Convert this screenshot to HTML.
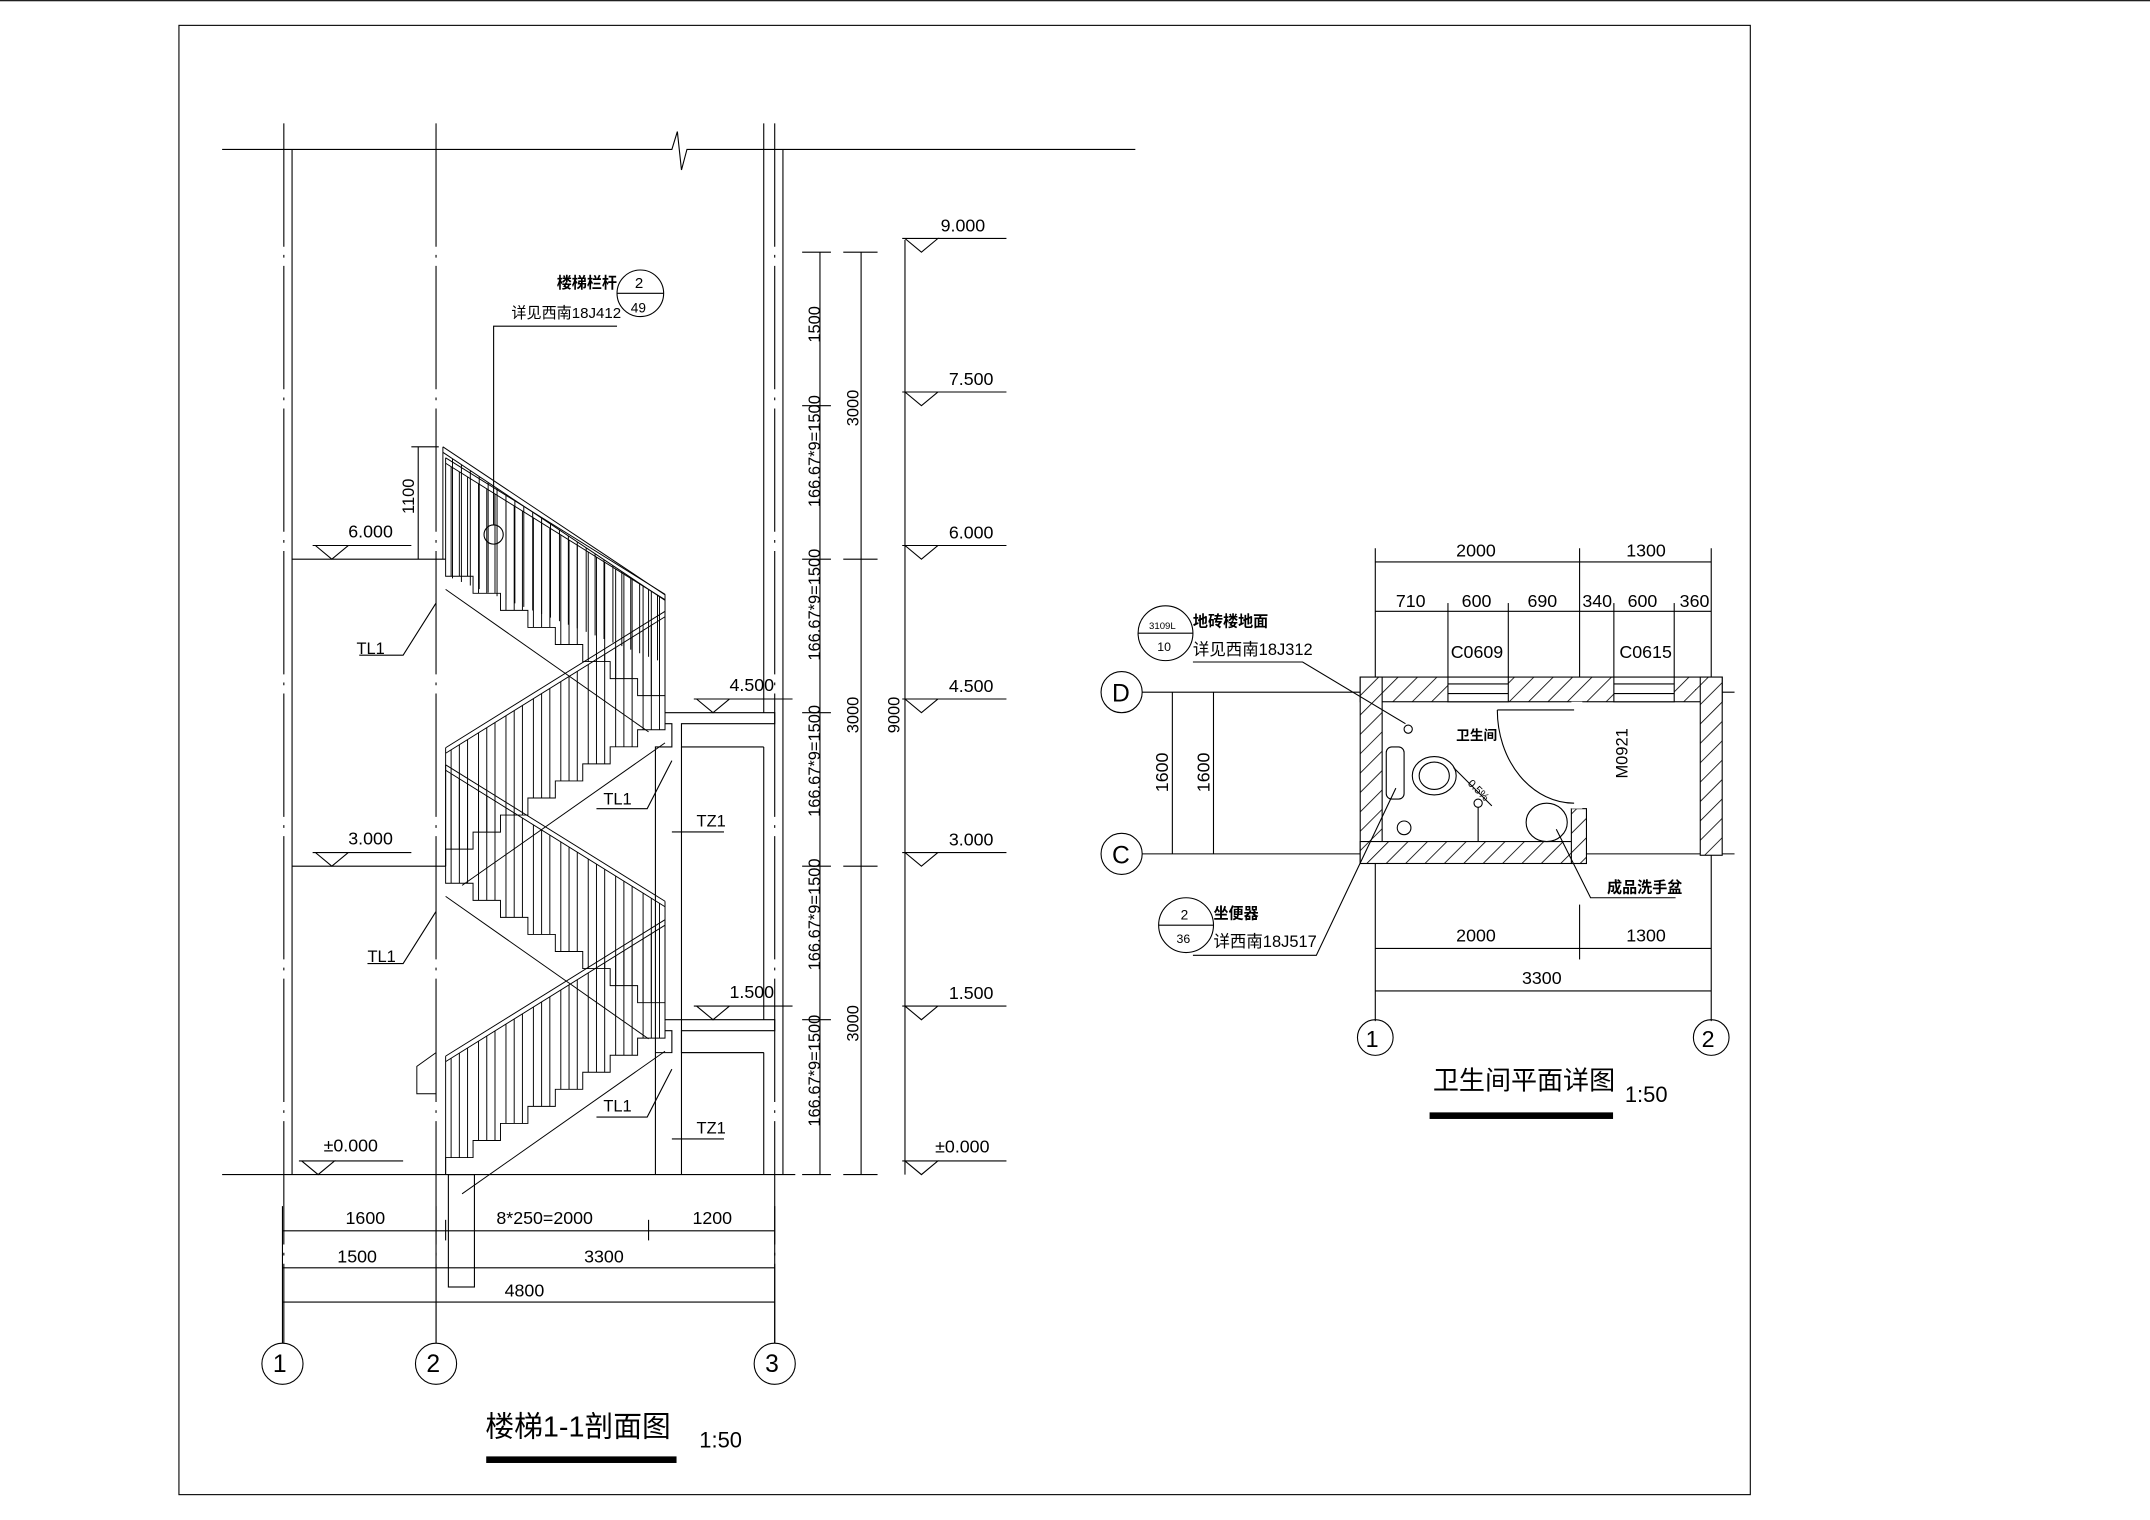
<!DOCTYPE html>
<html><head><meta charset="utf-8"><style>
html,body{margin:0;padding:0;background:#fff;}
svg{display:block}
text{font-family:"Liberation Sans","Noto Sans CJK SC",sans-serif;fill:#000}
</style></head><body>
<svg id="s" width="2150" height="1520" viewBox="0 0 1568 1109" preserveAspectRatio="none" xmlns="http://www.w3.org/2000/svg">
<g fill="none" stroke="#000" stroke-width="0.8">
<rect x="130.5" y="18.5" width="1146" height="1072"/>
<line x1="0" y1="0.5" x2="1568" y2="0.5"/>
<polyline points="162,109 490,109 494,96 497,124 501,109 828,109"/>
<line x1="207" y1="90" x2="207" y2="980" stroke-dasharray="90,6,2,6"/>
<line x1="213" y1="109" x2="213" y2="857"/>
<line x1="318" y1="90" x2="318" y2="980" stroke-dasharray="90,6,2,6"/>
<line x1="557" y1="90" x2="557" y2="520"/>
<line x1="565" y1="90" x2="565" y2="980" stroke-dasharray="90,6,2,6"/>
<line x1="571" y1="109" x2="571" y2="857"/>
<line x1="557" y1="545" x2="557" y2="744"/>
<line x1="557" y1="768" x2="557" y2="857"/>
<circle cx="206" cy="995" r="15"/><circle cx="318" cy="995" r="15"/><circle cx="565" cy="995" r="15"/>
<line x1="162" y1="857" x2="580" y2="857"/>
<rect x="327" y="857" width="19" height="82"/>
<line x1="213" y1="408" x2="325" y2="408"/>
<line x1="213" y1="632" x2="325" y2="632"/>
<polyline points="485,520 565,520 565,528 497,528 497,545 557,545"/>
<polyline points="485,528 490,528 490,545 478,545 478,857"/>
<polyline points="485,744 565,744 565,752 497,752 497,768 557,768"/>
<polyline points="485,752 490,752 490,768 478,768"/>
<line x1="497" y1="545" x2="497" y2="857"/>
<line x1="497" y1="768" x2="557" y2="768"/>
<g id="elev"></g>
<line x1="598" y1="184" x2="598" y2="857"/>
<line x1="628" y1="184" x2="628" y2="857"/>
<line x1="660" y1="175" x2="660" y2="857"/>
<line x1="206" y1="898" x2="565" y2="898"/>
<line x1="206" y1="925" x2="565" y2="925"/>
<line x1="206" y1="950" x2="565" y2="950"/>
<line x1="206" y1="880" x2="206" y2="980"/>
<line x1="565" y1="880" x2="565" y2="980"/>
<line x1="318" y1="880" x2="318" y2="980"/>
<line x1="325" y1="890" x2="325" y2="905"/>
<line x1="473" y1="890" x2="473" y2="905"/>
<circle cx="467" cy="214" r="17"/><line x1="450" y1="214" x2="484" y2="214"/>
<polyline points="450,238 360,238 360,383"/>
<circle cx="360" cy="390" r="7"/>
<line x1="305" y1="326" x2="305" y2="408"/>
<line x1="300" y1="326" x2="320" y2="326"/>
<polyline points="262,478 294,478 318,440"/>
<polyline points="268,703 294,703 318,665"/>
<polyline points="435,590 472,590 490,555"/>
<polyline points="435,815 472,815 490,780"/>
<line x1="490" y1="607" x2="528" y2="607"/>
<line x1="490" y1="831" x2="528" y2="831"/>
<rect x="355" y="1063" width="138" height="4" fill="#000"/>
<rect x="1043" y="812" width="133" height="4" fill="#000"/>
<g id="bath">
<line x1="1003" y1="400" x2="1003" y2="745"/>
<line x1="1248" y1="400" x2="1248" y2="745"/>
<line x1="1152" y1="400" x2="1152" y2="494"/>
<line x1="1152" y1="660" x2="1152" y2="700"/>
<line x1="1003" y1="410" x2="1248" y2="410"/>
<line x1="1003" y1="446" x2="1248" y2="446"/>
<line x1="1056" y1="440" x2="1056" y2="494"/>
<line x1="1100" y1="440" x2="1100" y2="494"/>
<line x1="1177" y1="440" x2="1177" y2="494"/>
<line x1="1221" y1="440" x2="1221" y2="494"/>
<line x1="1003" y1="692" x2="1248" y2="692"/>
<line x1="1003" y1="723" x2="1248" y2="723"/>
<line x1="833" y1="505" x2="1265" y2="505"/>
<line x1="833" y1="623" x2="1265" y2="623"/>
<line x1="855" y1="505" x2="855" y2="623"/>
<line x1="885" y1="505" x2="885" y2="623"/>
<circle cx="818" cy="505" r="15"/><circle cx="818" cy="623" r="15"/>
<circle cx="1003" cy="757" r="13"/><circle cx="1248" cy="757" r="13"/>
<rect x="992" y="494" width="264" height="18" fill="url(#h)"/>
<rect x="992" y="494" width="16" height="136" fill="url(#h)"/>
<rect x="992" y="614" width="165" height="16" fill="url(#h)"/>
<rect x="1240" y="494" width="16" height="130" fill="url(#h)"/>
<rect x="1146" y="590" width="11" height="40" fill="url(#h)"/>
<rect x="1056" y="494" width="44" height="18" fill="#fff"/>
<line x1="1056" y1="499" x2="1100" y2="499"/><line x1="1056" y1="506" x2="1100" y2="506"/>
<rect x="1177" y="494" width="44" height="18" fill="#fff"/>
<line x1="1177" y1="499" x2="1221" y2="499"/><line x1="1177" y1="506" x2="1221" y2="506"/>
<rect x="1146" y="512" width="8" height="78" fill="#fff" stroke="none"/>
<line x1="1092" y1="518" x2="1148" y2="518"/>
<path d="M1092,518 A56,68 0 0 0 1148,586"/>
<rect x="1011" y="545" width="13" height="38" rx="4"/>
<ellipse cx="1046" cy="566" rx="16" ry="14"/>
<ellipse cx="1046" cy="566" rx="11" ry="10"/>
<circle cx="1024" cy="604" r="5"/>
<circle cx="1027" cy="532" r="3"/>
<circle cx="1078" cy="586" r="3"/>
<line x1="1078" y1="589" x2="1078" y2="614"/>
<ellipse cx="1128" cy="600" rx="15" ry="14"/>
<line x1="1060" y1="560" x2="1088" y2="588"/>
<circle cx="850" cy="462" r="20"/><line x1="830" y1="462" x2="870" y2="462"/>
<polyline points="870,483 950,483 1025,528"/>
<circle cx="865" cy="675" r="20"/><line x1="845" y1="675" x2="885" y2="675"/>
<polyline points="870,697 960,697 1018,575"/>
<polyline points="1135,605 1160,655 1222,655"/>
</g>
</g>
<defs>
<pattern id="h" width="10" height="10" patternUnits="userSpaceOnUse" patternTransform="rotate(45)">
<rect width="10" height="10" fill="#fff"/><line x1="0" y1="0" x2="0" y2="10" stroke="#000" stroke-width="1.2"/>
</pattern>
</defs>
<g id="stairs" fill="none" stroke="#000" stroke-width="0.7"></g>
<g font-size="13">
<text x="254" y="392">6.000</text>
<text x="254" y="616">3.000</text>
<text x="236" y="840">±0.000</text>
<text x="532" y="504">4.500</text>
<text x="532" y="728">1.500</text>
<text x="686" y="169">9.000</text>
<text x="692" y="281">7.500</text>
<text x="692" y="393">6.000</text>
<text x="692" y="505">4.500</text>
<text x="692" y="617">3.000</text>
<text x="692" y="729">1.500</text>
<text x="682" y="841">±0.000</text>
<text x="260" y="477" font-size="12">TL1</text>
<text x="268" y="702" font-size="12">TL1</text>
<text x="440" y="587" font-size="12">TL1</text>
<text x="440" y="811" font-size="12">TL1</text>
<text x="508" y="603" font-size="12">TZ1</text>
<text x="508" y="827" font-size="12">TZ1</text>
<text x="252" y="893">1600</text>
<text x="362" y="893">8*250=2000</text>
<text x="505" y="893">1200</text>
<text x="246" y="921">1500</text>
<text x="426" y="921">3300</text>
<text x="368" y="946">4800</text>
<text x="199" y="1001" font-size="18">1</text>
<text x="311" y="1001" font-size="18">2</text>
<text x="558" y="1001" font-size="18">3</text>
<text x="406" y="210" font-size="11" font-weight="bold">楼梯栏杆</text>
<text x="373" y="232" font-size="11">详见西南18J412</text>
<text x="463" y="210" font-size="11">2</text>
<text x="460" y="228" font-size="10">49</text>
<g font-size="12">
<text transform="translate(598,250) rotate(-90)">1500</text>
<text transform="translate(598,370) rotate(-90)">166.67*9=1500</text>
<text transform="translate(598,482) rotate(-90)">166.67*9=1500</text>
<text transform="translate(598,596) rotate(-90)">166.67*9=1500</text>
<text transform="translate(598,708) rotate(-90)">166.67*9=1500</text>
<text transform="translate(598,822) rotate(-90)">166.67*9=1500</text>
<text transform="translate(626,311) rotate(-90)">3000</text>
<text transform="translate(626,535) rotate(-90)">3000</text>
<text transform="translate(626,760) rotate(-90)">3000</text>
<text transform="translate(656,535) rotate(-90)">9000</text>
<text transform="translate(302,375) rotate(-90)">1100</text>
</g>
<text x="354" y="1048" font-size="21">楼梯1-1剖面图</text>
<text x="510" y="1056" font-size="16">1:50</text>
<text x="1045" y="795" font-size="19">卫生间平面详图</text>
<text x="1185" y="804" font-size="16">1:50</text>
<text x="1062" y="406">2000</text>
<text x="1186" y="406">1300</text>
<text x="1018" y="443">710</text>
<text x="1066" y="443">600</text>
<text x="1114" y="443">690</text>
<text x="1154" y="443">340</text>
<text x="1187" y="443">600</text>
<text x="1225" y="443">360</text>
<text x="1058" y="480">C0609</text>
<text x="1181" y="480">C0615</text>
<text x="1062" y="687">2000</text>
<text x="1186" y="687">1300</text>
<text x="1110" y="718">3300</text>
<text transform="translate(852,578) rotate(-90)">1600</text>
<text transform="translate(882,578) rotate(-90)">1600</text>
<text transform="translate(1187,568) rotate(-90)" font-size="12">M0921</text>
<text x="811" y="512" font-size="18">D</text>
<text x="811" y="630" font-size="18">C</text>
<text x="996" y="764" font-size="17">1</text>
<text x="1241" y="764" font-size="17">2</text>
<text x="1062" y="540" font-size="10" font-weight="bold">卫生间</text>
<text x="870" y="457" font-size="11" font-weight="bold">地砖楼地面</text>
<text x="870" y="478" font-size="12">详见西南18J312</text>
<text x="838" y="459" font-size="7">3109L</text>
<text x="844" y="475" font-size="9">10</text>
<text x="885" y="670" font-size="11" font-weight="bold">坐便器</text>
<text x="885" y="691" font-size="12">详西南18J517</text>
<text x="861" y="671" font-size="10">2</text>
<text x="858" y="688" font-size="9">36</text>
<text x="1172" y="651" font-size="11" font-weight="bold">成品洗手盆</text>
<text transform="translate(1070,572) rotate(45)" font-size="8">0.5%</text>
</g>
<script>
var NS="http://www.w3.org/2000/svg";
function el(p,t,a){var e=document.createElementNS(NS,t);for(var k in a)e.setAttribute(k,a[k]);p.appendChild(e);return e;}
var g=document.getElementById('stairs');
function flight(xs,ys,d){
 var pts=[[xs,ys]],x=xs,y=ys,r=112/9;
 for(var i=0;i<9;i++){y-=r;pts.push([x,y]);if(i<8){x+=20*d;pts.push([x,y]);}}
 el(g,'polyline',{points:pts.map(function(p){return p.join(',')}).join(' ')});
 el(g,'line',{x1:xs+12*d,y1:ys+14,x2:xs+160*d,y2:ys-112+22});
 var h=70;
 el(g,'line',{x1:xs,y1:ys-r-h,x2:xs+160*d,y2:ys-112-h});
 el(g,'line',{x1:xs,y1:ys-r-h-4,x2:xs+160*d,y2:ys-112-h-4});
 for(var i=0;i<8;i++){
  var ty=ys-r*(i+1),tx=xs+20*d*i;
  [4,10,16].forEach(function(o){var bx=tx+o*d;var hy=ys-r-h+(bx-xs)*d*(-(112-r)/160);
   el(g,'line',{x1:bx,y1:ty,x2:bx,y2:hy});});
 }
 el(g,'line',{x1:xs+160*d,y1:ys-112,x2:xs+160*d,y2:ys-112-h-4});
 el(g,'line',{x1:xs,y1:ys,x2:xs,y2:ys-r-h-4});
}
flight(325,857,1);flight(485,744,-1);flight(325,632,1);flight(485,520,-1);
(function(){el(g,'line',{x1:323,y1:326,x2:485,y2:434});el(g,'line',{x1:323,y1:330,x2:485,y2:438});
el(g,'line',{x1:323,y1:326,x2:323,y2:408});
for(var i=0;i<24;i++){var bx=330+i*6.5;var hy=330+(bx-323)*108/162;el(g,'line',{x1:bx,y1:hy,x2:bx,y2:420+ (bx-325)*0.4});}})();
el(g,'polyline',{points:'318,768 304,778 304,798 318,798'});
var eg=document.getElementById('elev');
function tri(x,y,lx,len){el(eg,'polyline',{points:(x-12)+','+(y-10)+' '+x+','+y+' '+(x+12)+','+(y-10)+' '+(x-14)+','+(y-10)});el(eg,'line',{x1:x+12,y1:y-10,x2:x+12+len,y2:y-10});}
tri(242,408,0,46);tri(242,632,0,46);tri(232,857,0,50);tri(520,520,0,46);tri(520,744,0,46);
[184,296,408,520,632,744,857].forEach(function(y){tri(672,y,0,50);
 el(eg,'line',{x1:585,y1:y,x2:606,y2:y});});
[184,408,632,857].forEach(function(y){el(eg,'line',{x1:615,y1:y,x2:640,y2:y});});
</script>
</svg>
</body></html>
